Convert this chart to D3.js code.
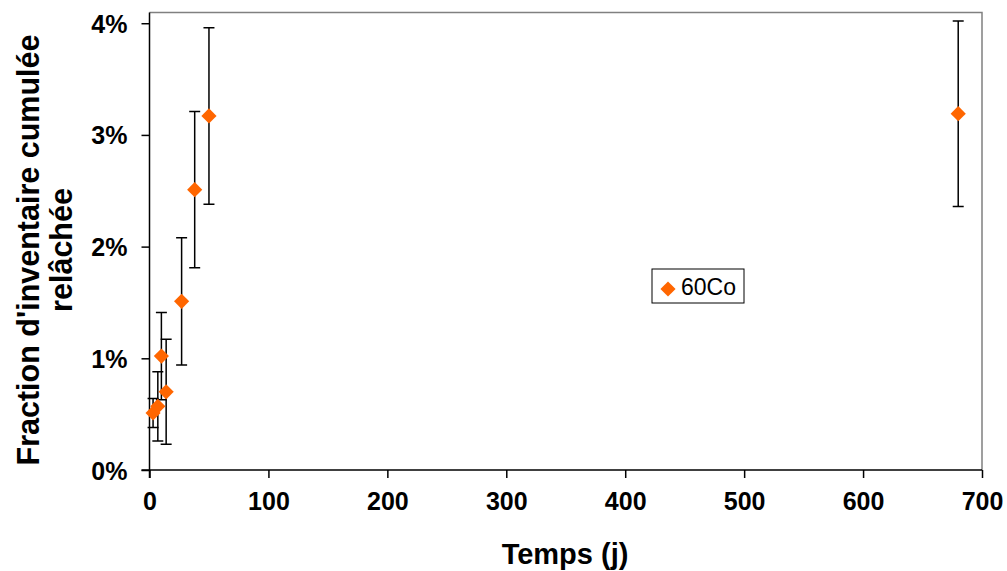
<!DOCTYPE html>
<html>
<head>
<meta charset="utf-8">
<script src="https://cdn.jsdelivr.net/npm/d3@7"></script>
<style>
  body { margin: 0; background: #fff; }
  svg { font-family: "Liberation Sans", Arial, sans-serif; }
</style>
</head>
<body>
<div id="chart"></div>
<script>
// data
const days = [3, 7, 10, 14, 27, 38, 50, 680];
const fraction = [0.51, 0.57, 1.02, 0.70, 1.51, 2.51, 3.17, 3.19]; // %
const errors = [0.13, 0.31, 0.39, 0.47, 0.57, 0.70, 0.79, 0.83];   // %
const xTicks = [0, 100, 200, 300, 400, 500, 600, 700];
const yTicks = [0, 1, 2, 3, 4];
const seriesName = '60Co';

const width = 1007, height = 571;
const margin = { top: 12.5, right: 25, bottom: 101, left: 149.5 };
const innerW = width - margin.left - margin.right;
const innerH = height - margin.top - margin.bottom;
const orange = '#ff6600';

const svg = d3.select('#chart')
	.append('svg')
	.attr('width', width)
	.attr('height', height);

const g = svg.append('g')
	.attr('transform', `translate(${margin.left},${margin.top})`);

const x = d3.scaleLinear().domain([0, 700]).range([0, innerW]);
// plot area runs a little above the 4% tick
const y = d3.scaleLinear().domain([0, 4.096]).range([innerH, 0]);

// gray frame top/right
g.append('path')
	.attr('d', `M0,0H${innerW}V${innerH}`)
	.attr('fill', 'none')
	.attr('stroke', '#808080')
	.attr('stroke-width', 1.5);

const xAxis = g.append('g')
	.attr('transform', `translate(0,${innerH})`)
	.call(d3.axisBottom(x).tickValues(xTicks).tickSize(8).tickPadding(14).tickFormat(d3.format('d')));

const yAxis = g.append('g')
	.call(d3.axisLeft(y).tickValues(yTicks).tickSize(8).tickPadding(14).tickFormat((d) => d + '%'));

[xAxis, yAxis].forEach((ax) => {
	ax.select('.domain').attr('stroke', '#000').attr('stroke-width', 1.5);
	ax.selectAll('.tick line').attr('stroke', '#000').attr('stroke-width', 1.5);
	ax.selectAll('.tick text')
		.attr('font-size', 25)
		.attr('font-weight', 'bold')
		.attr('fill', '#000')
		.attr('font-family', '"Liberation Sans", Arial, sans-serif');
});
xAxis.select('.domain').attr('d', `M-8,0H${innerW}`);
yAxis.select('.domain').attr('d', `M0,0V${innerH + 8}`);
yAxis.selectAll('.tick text').attr('dy', '0.36em');

const points = days.map((d, i) => ({ t: d, v: fraction[i], e: errors[i] }));

// error bars
const cap = 5.5;
const eb = g.append('g')
	.attr('stroke', '#000')
	.attr('stroke-width', 1.5)
	.attr('fill', 'none');

eb.selectAll('path')
	.data(points)
	.join('path')
	.attr('d', (d) => {
		const px = x(d.t), y1 = y(d.v + d.e), y2 = y(d.v - d.e);
		return `M${px - cap},${y1}H${px + cap}M${px},${y1}V${y2}M${px - cap},${y2}H${px + cap}`;
	});

const diamond = d3.symbol().type(d3.symbolSquare).size(115);

g.append('g')
	.selectAll('path')
	.data(points)
	.join('path')
	.attr('d', diamond)
	.attr('fill', orange)
	.attr('transform', (d) => `translate(${x(d.t)},${y(d.v)}) rotate(45)`);

// axis titles
svg.append('text')
	.attr('x', 565)
	.attr('y', 564)
	.attr('text-anchor', 'middle')
	.attr('font-size', 29)
	.attr('font-weight', 'bold')
	.text('Temps (j)');

const yTitle = svg.append('text')
	.attr('transform', 'translate(39,250) rotate(-90)')
	.attr('text-anchor', 'middle')
	.attr('font-size', 30.5)
	.attr('font-weight', 'bold');
yTitle.append('tspan').attr('x', 0).attr('dy', 0).text("Fraction d'inventaire cumulée");
yTitle.append('tspan').attr('x', 0).attr('dy', 33).text('relâchée');

// legend
const lg = svg.append('g').attr('transform', 'translate(652,269)');
lg.append('rect')
	.attr('width', 92)
	.attr('height', 34)
	.attr('fill', '#fff')
	.attr('stroke', '#000')
	.attr('stroke-width', 1);
lg.append('path')
	.attr('d', diamond)
	.attr('fill', orange)
	.attr('transform', 'translate(16,20) rotate(45)');
lg.append('text')
	.attr('x', 29)
	.attr('y', 26)
	.attr('font-size', 23)
	.text(seriesName);
</script>
</body>
</html>
